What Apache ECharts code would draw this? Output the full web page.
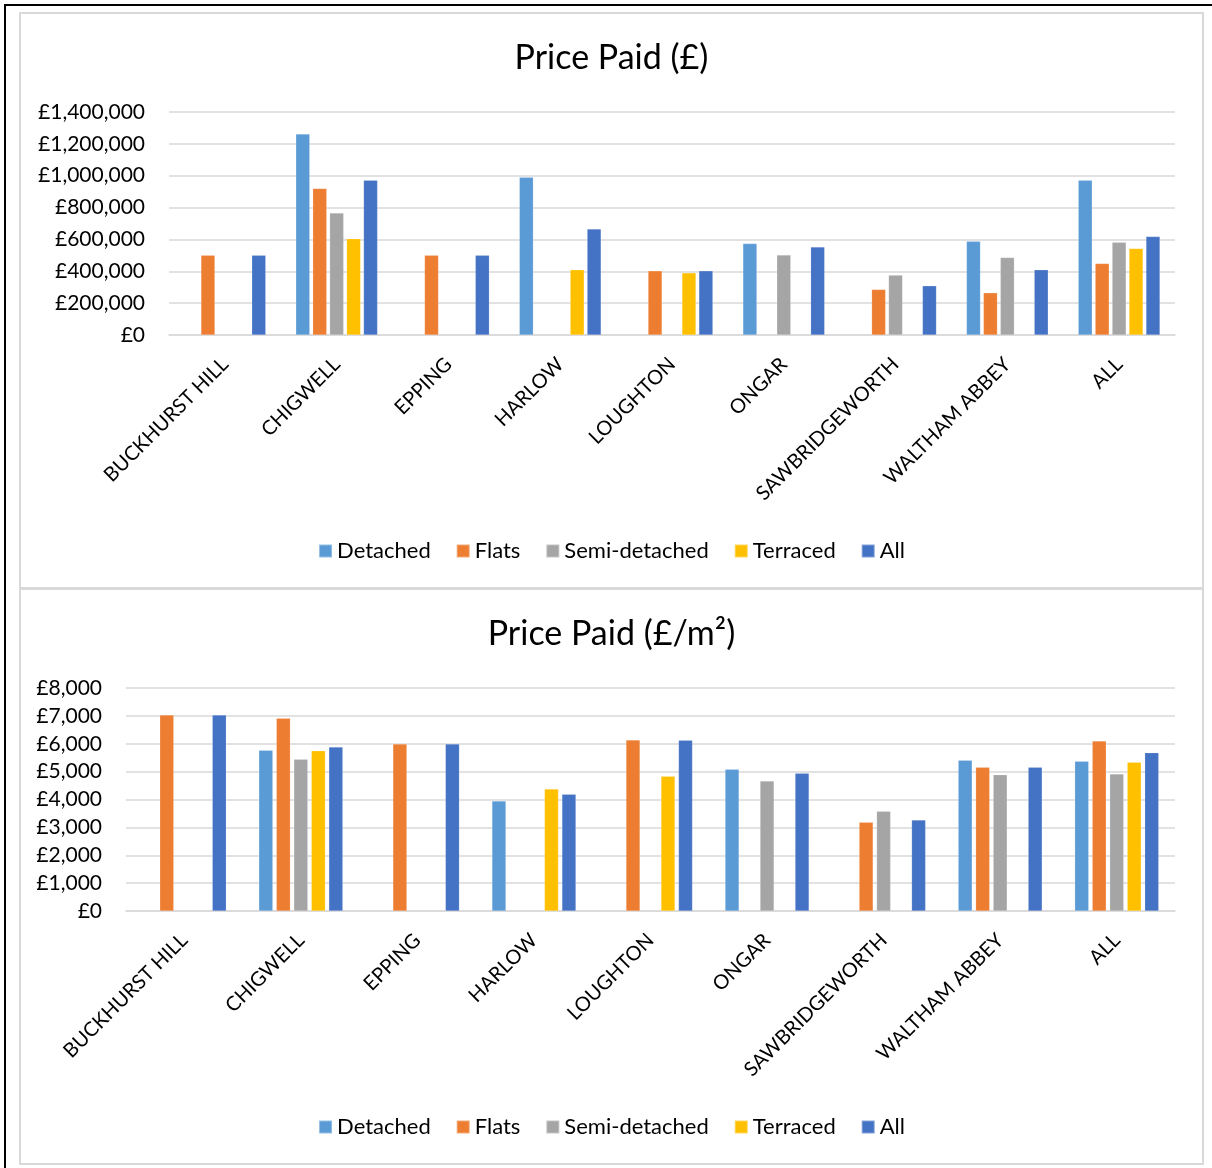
<!DOCTYPE html>
<html>
<head>
<meta charset="utf-8">
<script src="https://cdn.jsdelivr.net/npm/echarts@6/dist/echarts.min.js"></script>
<style>
  html, body { margin: 0; padding: 0; background: #fff; }
  #frame { position: absolute; left: 4px; top: 4px; width: 1208px; height: 1164px; border-left: 2px solid #000; border-top: 2px solid #000; }
  .panel { position: absolute; left: 19px; width: 1185px; height: 577px; border: 2px solid #d9d9d9; box-sizing: border-box; background: #fff; }
  #p1 { top: 12px; }
  #p2 { top: 588px; }
  .chart { width: 100%; height: 100%; }
</style>
</head>
<body>
<div id="frame"></div>
<div class="panel" id="p1"><div class="chart" id="priceChart"></div></div>
<div class="panel" id="p2"><div class="chart" id="sqmChart"></div></div>
<script>
const categories = ['BUCKHURST HILL', 'CHIGWELL', 'EPPING', 'HARLOW', 'LOUGHTON', 'ONGAR', 'SAWBRIDGEWORTH', 'WALTHAM ABBEY', 'ALL'];
const seriesNames = ['Detached', 'Flats', 'Semi-detached', 'Terraced', 'All'];

// Price paid (£)
const detached = [null, 1262000, null, 991000, null, 574000, null, 588000, 972000];
const flats = [500000, 920000, 500000, null, 403000, null, 286000, 265000, 449000];
const semiDetached = [null, 766000, null, null, null, 503000, 376000, 486000, 582000];
const terraced = [null, 605000, null, 409000, 390000, null, null, null, 543000];
const allTypes = [500000, 972000, 500000, 666000, 403000, 553000, 309000, 409000, 618000];

// Price paid (£/m²)
const detachedM2 = [null, 5765, null, 3946, null, 5083, null, 5406, 5370];
const flatsM2 = [7030, 6913, 5991, null, 6134, null, 3181, 5155, 6099];
const semiDetachedM2 = [null, 5442, null, null, null, 4664, 3576, 4891, 4915];
const terracedM2 = [null, 5751, null, 4377, 4832, null, null, null, 5335];
const allTypesM2 = [7030, 5883, 5991, 4186, 6123, 4939, 3265, 5155, 5680];

const colors = ['#5b9bd5', '#ed7d31', '#a5a5a5', '#ffc000', '#4472c4'];
const font = 'Lato, "Noto Sans", sans-serif';
const textColor = '#000';

function buildOption(title, seriesData, yMax, yInterval, gridLeft, barGap) {
    return {
        animation: false,
        color: colors,
        textStyle: { fontFamily: font },
        title: {
            text: title, left: 'center', top: 22,
            textStyle: { fontSize: 34, fontWeight: 'normal', color: textColor, fontFamily: font }
        },
        legend: {
            data: seriesNames, bottom: 20, left: 'center',
            icon: 'rect', itemWidth: 13, itemHeight: 13, itemGap: 25,
            textStyle: { fontSize: 22, color: textColor, fontFamily: font }
        },
        grid: { left: gridLeft, right: 27, top: 98, bottom: 252, containLabel: false },
        xAxis: {
            type: 'category', data: categories,
            axisLine: { lineStyle: { color: '#d9d9d9', width: 1.5 } },
            axisTick: { show: false },
            axisLabel: { rotate: 45, interval: 0, fontSize: 20, color: textColor, margin: 26, fontFamily: font }
        },
        yAxis: {
            type: 'value', min: 0, max: yMax, interval: yInterval,
            axisLine: { show: false }, axisTick: { show: false },
            splitLine: { lineStyle: { color: '#d9d9d9', width: 1.5 } },
            axisLabel: {
                fontSize: 21, color: textColor, margin: 24, fontFamily: font,
                formatter: v => '£' + v.toLocaleString('en-GB')
            }
        },
        series: seriesData.map((d, i) => ({
            name: seriesNames[i], type: 'bar', data: d,
            barWidth: 14, barGap: barGap,
            itemStyle: { borderColor: 'rgba(255,255,255,0.35)', borderWidth: 0.5 }
        }))
    };
}

const priceChart = echarts.init(document.getElementById('priceChart'));
priceChart.setOption(buildOption('Price Paid (£)',
    [detached, flats, semiDetached, terraced, allTypes], 1400000, 200000, 148, '21%'));

const sqmChart = echarts.init(document.getElementById('sqmChart'));
sqmChart.setOption(buildOption('Price Paid (£/m²)',
    [detachedM2, flatsM2, semiDetachedM2, terracedM2, allTypesM2], 8000, 1000, 105, '25%'));

window.addEventListener('resize', () => { priceChart.resize(); sqmChart.resize(); });
</script>
</body>
</html>
